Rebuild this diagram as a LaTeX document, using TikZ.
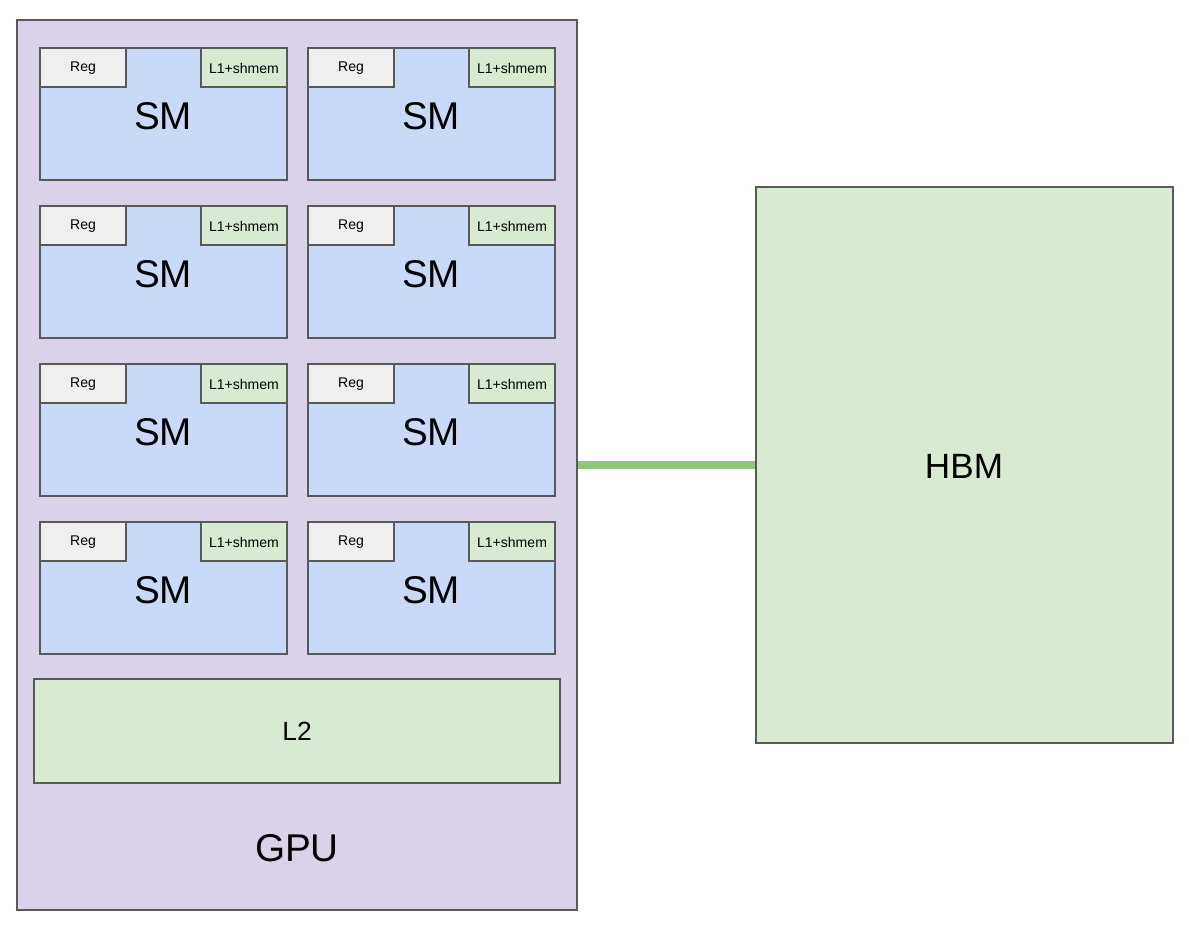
\documentclass[tikz,border=0pt]{standalone}
\usepackage{fontspec}
\setmainfont{Liberation Sans}
\definecolor{gpufill}{HTML}{D9D2E9}
\definecolor{smfill}{HTML}{C9DAF8}
\definecolor{regfill}{HTML}{EFEFEF}
\definecolor{memfill}{HTML}{D9EAD3}
\definecolor{edgegray}{HTML}{595959}
\definecolor{linkgreen}{HTML}{93C47D}
\tikzset{
  box/.style={draw=edgegray, line width=1.1pt},
}
\begin{document}
\begin{tikzpicture}[x=0.02cm, y=-0.02cm]
    \useasboundingbox (0,0) rectangle (1189,933);
    % gpu die
    \draw[box, fill=gpufill] (17,20) rectangle (577,910);
    \node at (297,848) {\fontsize{22}{26}\selectfont GPU};

    % streaming multiprocessors
    \foreach \col/\x in {0/40, 1/308} {
      \foreach \row/\y in {0/48, 1/206, 2/364, 3/522} {
        \draw[box, fill=smfill] (\x,\y) rectangle ++(247,132);
        \node (sm\col\row) at ([shift={(123,68)}]\x,\y) {\fontsize{22}{26}\selectfont SM};
        \draw[box, fill=regfill] (\x,\y) rectangle ++(86,39);
        \node at ([shift={(43,20)}]\x,\y) {\fontsize{8}{10}\selectfont Reg};
        \draw[box, fill=memfill] ([shift={(161,0)}]\x,\y) rectangle ++(86,39);
        \node at ([shift={(204,20)}]\x,\y) {\fontsize{8}{10}\selectfont L1+shmem};
      }
    }

    % l2 cache
    \draw[box, fill=memfill] (34,679) rectangle (560,783);
    \node at (297,731) {\fontsize{15}{18}\selectfont L2};

    % memory
    \draw[box, fill=memfill] (756,187) rectangle (1173,743);
    \node (hbm) at (964,466) {\fontsize{20}{24}\selectfont HBM};

    \coordinate (gpuedge) at (578,465);
    \coordinate (hbmedge) at (755,465);
    \draw[linkgreen, line width=5pt] (gpuedge) -- (hbmedge);
\end{tikzpicture}
\end{document}
